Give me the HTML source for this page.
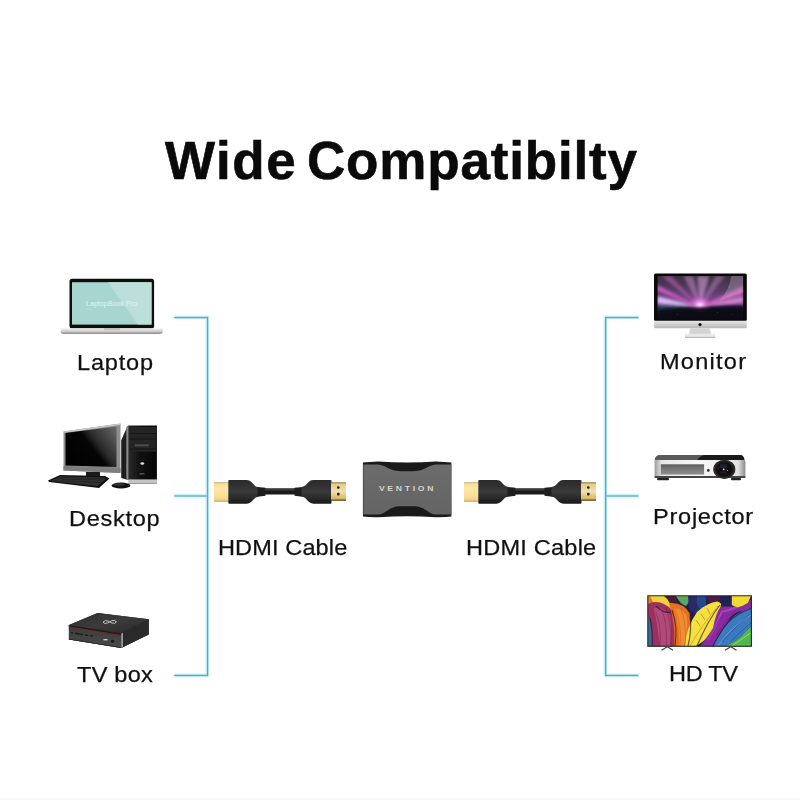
<!DOCTYPE html>
<html><head><meta charset="utf-8">
<style>
html,body{margin:0;padding:0;background:#fff;}
body{width:800px;height:800px;position:relative;overflow:hidden;font-family:"Liberation Sans",sans-serif;}
.t{position:absolute;white-space:nowrap;color:#111;line-height:1;}
.title{font-weight:bold;font-size:53px;top:134px;color:#0a0a0a;letter-spacing:1.5px;-webkit-text-stroke:0.6px #0a0a0a}
#w2{letter-spacing:0.83px}
.lab{font-size:22px;transform:scaleX(1.07);transform-origin:0 0;-webkit-text-stroke:0.25px #111;}
svg{position:absolute;left:0;top:0;}
</style></head><body>
<div class="t title" id="w1" style="left:165px">Wide</div><div class="t title" id="w2" style="left:307px">Compatibilty</div>

<div class="t lab" style="left:77px;top:352px;letter-spacing:0.75px">Laptop</div>
<div class="t lab" style="left:69.2px;top:508px;letter-spacing:0.66px">Desktop</div>
<div class="t lab" style="left:77px;top:664px;letter-spacing:0.23px">TV box</div>
<div class="t lab" style="left:218.3px;top:537px;letter-spacing:0.11px">HDMI Cable</div>
<div class="t lab" style="left:466.2px;top:537px;letter-spacing:0.21px">HDMI Cable</div>
<div class="t lab" style="left:660.4px;top:351px;letter-spacing:1.17px">Monitor</div>
<div class="t lab" style="left:653px;top:506px;letter-spacing:0.7px">Projector</div>
<div class="t lab" style="left:668.5px;top:663px;letter-spacing:-0.29px">HD TV</div>

<svg width="800" height="800" viewBox="0 0 800 800">
<defs>
 <linearGradient id="lapbase" x1="0" y1="0" x2="0" y2="1">
  <stop offset="0" stop-color="#f2f2f2"/><stop offset=".5" stop-color="#d0d0d0"/><stop offset="1" stop-color="#8a8a8a"/>
 </linearGradient>
 <linearGradient id="dscr" x1="0" y1="0" x2="1" y2="1">
  <stop offset="0" stop-color="#3a3a3a"/><stop offset=".45" stop-color="#0c0c0c"/><stop offset="1" stop-color="#000"/>
 </linearGradient>
 <linearGradient id="dframe" x1="0" y1="0" x2="1" y2="0">
  <stop offset="0" stop-color="#9a9a9a"/><stop offset=".5" stop-color="#c4c4c4"/><stop offset="1" stop-color="#8a8a8a"/>
 </linearGradient>
 <linearGradient id="gold" x1="0" y1="0" x2="0" y2="1">
  <stop offset="0" stop-color="#b89a5a"/><stop offset=".07" stop-color="#f6dc98"/><stop offset=".3" stop-color="#fde6a6"/><stop offset=".7" stop-color="#fbe09a"/><stop offset=".93" stop-color="#f2cf80"/><stop offset="1" stop-color="#a48450"/>
 </linearGradient>
 <linearGradient id="gold2" x1="0" y1="0" x2="0" y2="1">
  <stop offset="0" stop-color="#8a6a30"/><stop offset=".1" stop-color="#e6cc88"/><stop offset=".5" stop-color="#f0e0b0"/><stop offset=".88" stop-color="#dcb860"/><stop offset="1" stop-color="#4a3410"/>
 </linearGradient>
 <linearGradient id="plug" x1="0" y1="0" x2="0" y2="1">
  <stop offset="0" stop-color="#2a2a2a"/><stop offset=".5" stop-color="#3a3a3a"/><stop offset="1" stop-color="#1a1a1a"/>
 </linearGradient>
 <linearGradient id="imacchin" x1="0" y1="0" x2="0" y2="1">
  <stop offset="0" stop-color="#e6e6e6"/><stop offset=".5" stop-color="#cfcfcf"/><stop offset="1" stop-color="#b4b4b4"/>
 </linearGradient>
 <radialGradient id="rays" cx="700" cy="308" r="50" gradientUnits="userSpaceOnUse">
  <stop offset="0" stop-color="#f4b8f0"/><stop offset=".3" stop-color="#c860b8"/><stop offset=".7" stop-color="#5a2a6a"/><stop offset="1" stop-color="#2a1a3a"/>
 </radialGradient>
 <linearGradient id="projbody" x1="0" y1="0" x2="1" y2="0">
  <stop offset="0" stop-color="#9a9a9a"/><stop offset=".08" stop-color="#e8e8e8"/><stop offset=".5" stop-color="#f8f8f8"/><stop offset=".92" stop-color="#e0e0e0"/><stop offset="1" stop-color="#8a8a8a"/>
 </linearGradient>
 <linearGradient id="vent" x1="0" y1="0" x2="0" y2="1">
  <stop offset="0" stop-color="#5e5e5e"/><stop offset=".5" stop-color="#7a7a7a"/><stop offset="1" stop-color="#8e8e8e"/>
 </linearGradient>
 <radialGradient id="lens" cx=".45" cy=".4" r=".6">
  <stop offset="0" stop-color="#5a6a8a"/><stop offset=".35" stop-color="#1a2030"/><stop offset=".8" stop-color="#0a0a0a"/><stop offset="1" stop-color="#2a1a1a"/>
 </radialGradient>
 <linearGradient id="adface" x1="0" y1="0" x2="0" y2="1">
  <stop offset="0" stop-color="#6c6c6c"/><stop offset="1" stop-color="#646464"/>
 </linearGradient>
</defs>

<!-- lines -->
<g id="lines">
 <g fill="#d2fbff">
  <rect x="205.2" y="315.3" width="4" height="361.8"/>
  <rect x="174" y="315.3" width="34" height="4"/>
  <rect x="174" y="673.3" width="34" height="4"/>
  <rect x="174" y="493.6" width="33" height="4.8"/>
  <rect x="603.3" y="315.3" width="4" height="361.8"/>
  <rect x="605" y="315.3" width="33.6" height="4"/>
  <rect x="605" y="673.3" width="33.6" height="4"/>
  <rect x="606" y="493.6" width="32.6" height="4.8"/>
 </g>
 <g fill="#5ea4c4">
  <rect x="206.8" y="316.8" width="1.5" height="359.4"/>
  <rect x="174.3" y="316.8" width="33.5" height="1.5"/>
  <rect x="174.3" y="674.7" width="33.5" height="1.5"/>
  <rect x="604.9" y="316.8" width="1.5" height="359.4"/>
  <rect x="605.2" y="316.8" width="33.3" height="1.5"/>
  <rect x="605.2" y="674.7" width="33.3" height="1.5"/>
 </g>
 <g fill="#8cc0d6">
  <rect x="174.3" y="494.9" width="33" height="2.1"/>
  <rect x="606" y="494.9" width="32.5" height="2.1"/>
 </g>
</g>

<!-- Laptop -->
<g id="laptop">
 <rect x="69.5" y="278.8" width="84.6" height="49.7" rx="2.5" fill="#0e0e0e"/>
 <rect x="72" y="282.2" width="79.5" height="42.4" fill="#a7d5cf"/>
 <polygon points="108,282.2 151.5,282.2 151.5,324.6 138,324.6" fill="#bddfdb"/>
 <text x="86" y="306.3" font-family="Liberation Sans" font-size="7" fill="#e2f2f0" letter-spacing="0" textLength="51" lengthAdjust="spacingAndGlyphs">LaptopBook Pro</text>
 <rect x="86.5" y="308.8" width="6" height="0.5" fill="#d6ecea"/>
 <path d="M60.7,328.3 H162.8 V331.5 Q162.8,334 159.5,334 H64 Q60.7,334 60.7,331.5 Z" fill="url(#lapbase)"/>
 <rect x="104" y="328.3" width="16" height="1.5" fill="#b8b8b8"/>
</g>

<!-- Desktop -->
<g id="desktop">
 <defs>
  <linearGradient id="dscr2" x1="65.5" y1="466" x2="116.5" y2="427" gradientUnits="userSpaceOnUse">
   <stop offset="0" stop-color="#000"/><stop offset=".5" stop-color="#050505"/><stop offset=".62" stop-color="#2a2a2a"/><stop offset="1" stop-color="#6a6a6a"/>
  </linearGradient>
  <linearGradient id="tower" x1="0" y1="0" x2="1" y2="0">
   <stop offset="0" stop-color="#2a2a2a"/><stop offset=".4" stop-color="#111"/><stop offset="1" stop-color="#050505"/>
  </linearGradient>
 </defs>
 <polygon points="63.5,431.5 120.5,423.5 120.5,473 63.5,470.5" fill="#8e8e8e"/>
 <polygon points="63.5,431.5 120.5,423.5 120.5,425 63.5,433" fill="#c8c8c8"/>
 <polygon points="65.5,433 116.5,426.5 116.5,467 65.5,465.5" fill="url(#dscr2)"/>
 <polygon points="63.5,466 120.5,468 120.5,473 63.5,470.5" fill="#7e7e7e"/>
 <rect x="86" y="472" width="14" height="4.5" fill="#1a1a1a"/>
 <polygon points="48,480.5 60,475 105,476 109.5,478.5 99,488 49,482" fill="#121212"/>
 <polygon points="52,480.3 61,476.5 104,477.5 106,479 97.5,486 52,481.3" fill="#4a4a4a" opacity=".6"/>
 <g stroke="#111" stroke-width=".5" opacity=".8">
  <path d="M56,478.8 L105,480.2 M53,480.6 L102,482.5 M60,477.5 L106,478.8"/>
 </g>
 <polygon points="121.2,440.5 127.5,426 128.3,426 128.3,480 121.2,478" fill="#1e1e1e"/>
 <polygon points="126.3,427 128.3,425.5 128.3,480 126.3,479.5" fill="#8a8a8a"/>
 <rect x="128.3" y="425.5" width="28.6" height="54.5" fill="url(#tower)"/>
 <rect x="129.5" y="427" width="26.5" height="24.7" fill="#242424"/>
 <path d="M129.5,433.5 H156 M129.5,439 H156 M129.5,449 H156" stroke="#111" stroke-width=".8"/>
 <rect x="134.8" y="444.2" width="14.1" height="2.2" fill="#4a4a4a"/>
 <ellipse cx="142.3" cy="463.5" rx="1.9" ry="1.3" fill="#e0e0e0"/>
 <rect x="139.5" y="473.5" width="5" height="0.8" fill="#888"/>
 <rect x="128.3" y="479.4" width="28.6" height="4.2" fill="#c4c4c4"/>
 <rect x="128.3" y="483" width="28.6" height="0.8" fill="#888"/>
 <ellipse cx="121" cy="485.5" rx="9.5" ry="3" fill="#111"/>
 <ellipse cx="119" cy="484.5" rx="6" ry="1.5" fill="#3a3a3a" opacity=".8"/>
</g>

<!-- TV box -->
<g id="tvbox">
 <defs>
  <linearGradient id="tbtop" x1="0" y1="0" x2="1" y2="1">
   <stop offset="0" stop-color="#2c2c2c"/><stop offset=".5" stop-color="#3c3c3c"/><stop offset="1" stop-color="#262626"/>
  </linearGradient>
  <linearGradient id="tbfront" x1="0" y1="0" x2="0" y2="1">
   <stop offset="0" stop-color="#3a3a3a"/><stop offset="1" stop-color="#4a4a4a"/>
  </linearGradient>
 </defs>
 <polygon points="68.9,624.9 97.6,613 148.8,619.2 148.8,634.4 121.2,647.9 68.9,639.5" fill="#2a2a2a"/>
 <polygon points="68.9,624.9 97.6,613 148.8,619.2 121.2,633.3" fill="url(#tbtop)"/>
 <polygon points="68.9,624.9 121.2,633.3 121.2,647.9 68.9,639.5" fill="url(#tbfront)"/>
 <polygon points="121.2,633.3 148.8,619.2 148.8,634.4 121.2,647.9" fill="#2a2a2a"/>
 <polygon points="68.9,624.9 121.2,633.3 121.2,635.3 68.9,626.7" fill="#1e1e1e"/>
 <polygon points="68.9,626.5 121.2,635 121.2,635.9 68.9,627.4" fill="#6e2a2a"/>
 <polygon points="121.2,633.6 123,632.7 123,647 121.2,647.9" fill="#9a9a9a"/>
 <polygon points="68.9,638.8 121.2,647.2 121.2,647.9 68.9,639.5" fill="#222"/>
 <g fill="#1a1a1a">
  <polygon points="71,632 73,632.3 73,633.5 71,633.2"/>
  <polygon points="75,632.6 83,633.9 83,635.2 75,633.9"/>
  <polygon points="85,634.2 88,634.7 88,636 85,635.5"/>
  <polygon points="90,635 93,635.5 93,636.8 90,636.3"/>
 </g>
 <rect x="103.5" y="639" width="4" height="1.4" fill="#cfcfcf"/>
 <circle cx="112.5" cy="641.3" r="1.7" fill="#1a1a1a"/>
 <path d="M103,622.2 Q105,619.6 108,621 Q110,622.2 112,623 Q115,624.2 116.5,621.8 Q114.5,619.4 111.5,620.8 Q109.5,622 107.5,623 Q104.5,624.4 103,622.2Z" fill="none" stroke="#d0d0d0" stroke-width="0.9"/>
</g>

<!-- HDMI cable left -->
<g id="cableL">
 <rect x="214" y="482.3" width="14.5" height="19.3" fill="url(#gold)"/>
 <path d="M228.3,481 Q228.3,480.1 229.3,480.1 H246.5 C252.5,480.1 253,486.9 258.5,487 V496.8 C253,496.9 252.5,503.7 246.5,503.7 H229.3 Q228.3,503.7 228.3,502.8 Z" fill="url(#plug)"/>
 <path d="M257.5,487 L265.5,487.8 V495.8 L257.5,496.8Z" fill="#1e1e1e"/>
 <rect x="265" y="488.3" width="31" height="6.2" fill="#1b1b1b"/>
 <rect x="265" y="489" width="31" height="1.5" fill="#3a3a3a"/>
 <path d="M302.5,487 L294.5,487.8 V495.8 L302.5,496.8Z" fill="#1e1e1e"/>
 <path d="M331.5,481 Q331.5,480.1 330.5,480.1 H313.5 C307.5,480.1 307,486.9 301.5,487 V496.8 C307,496.9 307.5,503.7 313.5,503.7 H330.5 Q331.5,503.7 331.5,502.8 Z" fill="url(#plug)"/>
 <rect x="331" y="482.3" width="15" height="18.5" fill="url(#gold2)"/>
 <rect x="337" y="486.2" width="2.6" height="2.6" rx="1" fill="#222"/>
 <rect x="337" y="492.8" width="2.6" height="2.6" rx="1" fill="#222"/>
</g>
<use href="#cableL" x="250" y="0"/>

<!-- Adapter -->
<g id="adapter">
 <path d="M362.9,462.5 Q370,461.6 378.3,461.4 Q407,463.5 436,461.4 Q444,461.6 451.4,462.5 V516.5 Q444,517.4 436,517.2 Q407,515.5 378.3,517.2 Q370,517.4 362.9,516.5 Z" fill="#1a1a1a"/>
 <path d="M363.3,464.6 H378 C386,465 389,471.2 400,471.2 H414 C425,471.2 428,465 436,464.6 H451.4 V514.5 H436 C428,514.1 425,506.3 414,506.3 H400 C389,506.3 386,514.1 378,514.5 H363.3 Z" fill="url(#adface)"/>
 
 <text x="0" y="0" transform="translate(407.5 491.4) scale(1.3 1)" text-anchor="middle" font-family="Liberation Sans" font-weight="bold" font-size="6.6" fill="#d4d4d4" letter-spacing="2.1">VENTION</text>
</g>

<!-- iMac -->
<g id="imac">
 <rect x="654" y="273.5" width="92.8" height="47.5" rx="1.5" fill="#0a0a0a"/>
 <svg x="657.4" y="276" width="85.9" height="43.3" viewBox="0 0 86 43" preserveAspectRatio="none">
  <defs>
   <linearGradient id="imbg" x1="0" y1="0" x2="0" y2="1">
    <stop offset="0" stop-color="#3a3040"/><stop offset=".35" stop-color="#5a3c66"/><stop offset=".62" stop-color="#8a4a9a"/><stop offset=".74" stop-color="#2a1a40"/><stop offset=".85" stop-color="#120c1c"/><stop offset="1" stop-color="#0a0810"/>
   </linearGradient>
   <filter id="bl1" x="-20%" y="-20%" width="140%" height="140%"><feGaussianBlur stdDeviation="1.2"/></filter>
   <filter id="bl2" x="-20%" y="-20%" width="140%" height="140%"><feGaussianBlur stdDeviation="1.6"/></filter>
   <radialGradient id="glow" cx=".5" cy=".55" r=".5">
    <stop offset="0" stop-color="#fff0ff"/><stop offset=".35" stop-color="#f090e8" stop-opacity=".85"/><stop offset="1" stop-color="#c050c0" stop-opacity="0"/>
   </radialGradient>
  </defs>
  <rect width="86" height="43" fill="url(#imbg)"/>
  <g filter="url(#bl2)">
   <polygon points="42.6,31 0,20 0,27" fill="#e4c8ff" opacity=".9"/>
   <polygon points="42.6,31 0,9 0,15" fill="#e060d0" opacity=".8"/>
   <polygon points="42.6,31 4,0 14,0" fill="#c868c8" opacity=".5"/>
   <polygon points="42.6,31 26,0 36,0" fill="#d898d8" opacity=".45"/>
   <polygon points="42.6,31 40,0 52,0" fill="#e8b0e8" opacity=".5"/>
   <polygon points="42.6,31 58,0 68,0" fill="#d090d0" opacity=".4"/>
   <polygon points="42.6,31 86,10 86,18" fill="#e868d0" opacity=".85"/>
   <polygon points="42.6,31 86,20 86,26" fill="#f0a0e0" opacity=".7"/>
   <polygon points="42.6,31 0,27 0,37 28,34" fill="#2a6a7a" opacity=".5"/>
  </g>
  <ellipse cx="42.6" cy="27.5" rx="13" ry="9" fill="url(#glow)"/>
  <path d="M0,33 Q30,30.5 42.6,31.5 Q60,30.5 86,30 V45 H0Z" fill="#0c0a12" opacity=".9" filter="url(#bl1)"/>
  <path d="M74,0 H86 V16 Q72,20 62,25 Q72,14 74,0Z" fill="#b8a0b8" opacity=".4"/>
  <circle cx="20" cy="38" r=".3" fill="#fff" opacity=".6"/><circle cx="60" cy="36" r=".3" fill="#fff" opacity=".6"/><circle cx="75" cy="38" r=".3" fill="#fff" opacity=".5"/>
 </svg>
 <path d="M654,320.7 H746.8 V327 Q746.8,328.3 745,328.3 H655.8 Q654,328.3 654,327 Z" fill="url(#imacchin)"/>
 <circle cx="700" cy="324.6" r="1.6" fill="#111"/>
 <polygon points="690.4,328.3 709.6,328.3 711,334 689,334" fill="#d4d4d4"/>
 <rect x="685" y="333.8" width="30.2" height="4" fill="#e8e8e8"/>
 <rect x="685" y="336.8" width="30.2" height="1.2" fill="#b8b8b8"/>
</g>

<!-- Projector -->
<g id="proj">
 <path d="M654.6,460.5 Q655,455 660,455 H740 Q744,455 744.5,460.5 Z" fill="#5a5a5a"/>
 <path d="M697,460.5 Q700,455 706,455 H740 Q744,455 744.5,460.5 Z" fill="#1a1a1a"/>
 <rect x="654.6" y="460" width="90.8" height="17" rx="1.5" fill="url(#projbody)"/>
 <rect x="654.6" y="476" width="90.8" height="2" fill="#444"/>
 <rect x="660.8" y="464.3" width="43.3" height="10.3" fill="url(#vent)"/>
 <circle cx="708.3" cy="470.4" r="1.3" fill="#222"/>
 <ellipse cx="724.3" cy="469.3" rx="11" ry="9.6" fill="#1e1e1e"/>
 <ellipse cx="724.3" cy="469.3" rx="10.2" ry="8.9" fill="none" stroke="#4a3a3a" stroke-width=".8" opacity=".7"/>
 <ellipse cx="724.3" cy="469.3" rx="8" ry="7" fill="#0e0e12"/>
 <ellipse cx="723.5" cy="466" rx="4" ry="2.5" fill="#2a3a5a" opacity=".45"/>
 <ellipse cx="723.5" cy="472.5" rx="3.5" ry="2" fill="#4a1a20" opacity=".35"/>
 <circle cx="723.8" cy="469.3" r=".9" fill="#e8d8c0"/>
 <circle cx="718" cy="468" r=".7" fill="#b07080" opacity=".5"/>
 <circle cx="727.5" cy="470.5" r=".6" fill="#ccc" opacity=".8"/>
 <rect x="657" y="478" width="12" height="2.2" rx="1" fill="#222"/>
 <rect x="731" y="478" width="10" height="2.2" rx="1" fill="#222"/>
</g>

<!-- HD TV -->
<g id="tv">
 <defs>
  <clipPath id="tvclip"><rect x="648.3" y="596.3" width="102.6" height="49.5"/></clipPath>
  <filter id="tvbl" x="-5%" y="-5%" width="110%" height="110%"><feGaussianBlur stdDeviation="0.75"/></filter>
 </defs>
 <rect x="647.3" y="595.3" width="104.6" height="51.5" fill="#151515"/>
 <g clip-path="url(#tvclip)"><g filter="url(#tvbl)">
  <rect x="648" y="596" width="104" height="51" fill="#1c2448"/>
  <!-- left blue edge -->
  <rect x="648" y="615" width="6" height="32" fill="#2a5a8a"/>
  <!-- top middle dark maroon / green / navy -->
  <path d="M658,596 H678 Q676,604 670,608 Q662,604 658,596Z" fill="#4a1a30"/>
  <path d="M676,596 H690 Q690,602 686,606 Q680,604 676,596Z" fill="#5aa860"/>
  <path d="M688,596 H706 V614 Q696,616 690,610 Q688,604 688,596Z" fill="#2a2a6a"/>
  <path d="M697,596 H706 V612 Q700,610 697,604Z" fill="#244a8a"/>
  <path d="M705,596 H722 Q720,602 714,605 Q708,603 705,596Z" fill="#4a1a48"/>
  <path d="M720,596 H733 V607 Q726,608 720,602Z" fill="#22205a"/>
  <!-- top-left orange tint + yellow feather -->
  <rect x="648" y="596" width="6" height="10" fill="#e07a30"/>
  <path d="M650,596 H664 Q672,602 671,612 Q664,614 656,606 Q652,601 650,596Z" fill="#f2d23a"/>
  <!-- maroon feather -->
  <path d="M648,604 Q660,598 672,610 Q678,626 675,646 H652 Q650,630 648,618Z" fill="#9a3060"/>
  <path d="M654,608 Q664,606 670,616 Q672,630 670,646 H660 Q658,628 654,608Z" fill="#b85080" opacity=".8"/>
  <path d="M650,618 Q653,632 652,646 H648 V618Z" fill="#3a6a9a"/>
  <!-- orange feather -->
  <path d="M669,603 Q684,602 690,614 Q692,630 688,646 H674 Q676,625 669,603Z" fill="#e8701e"/>
  <path d="M674,608 Q684,608 687,618 Q688,632 684,646 H679 Q680,628 674,608Z" fill="#f39a3a" opacity=".7"/>
  <!-- big yellow feather -->
  <path d="M685,646 Q686,628 697,612 Q708,602 717.3,601.4 Q722,603 720.9,605 Q720,614 718.7,621 Q714,630 707,638 Q700,644 696,646Z" fill="#f4e040"/>
  <path d="M690,646 Q700,628 718,606" fill="none" stroke="#d0a820" stroke-width=".9"/>
  <path d="M700,626 l-4,-6 M705,620 l-4,-6 M710,614 l-3,-6" stroke="#c07a20" stroke-width=".7"/>
  <!-- purple feather -->
  <path d="M700,646 Q708,636 713,628 Q716,612 721,606.5 H733.2 Q745,603 752,599 V613.7 Q744,610 737.6,612 Q730,616 727.4,622.4 Q720,632 717.3,639 L714,646Z" fill="#8a2aa0"/>
  <path d="M708,640 Q716,626 722,612 Q730,610 740,606" fill="none" stroke="#b050c8" stroke-width="2" opacity=".7"/>
  <!-- yellow top right -->
  <path d="M731.8,596 H751 Q749,601 747.7,602.9 Q743,606 737.6,607.2 Q733,606 731.8,605Z" fill="#f0dc30"/>
  <!-- blue feather -->
  <path d="M713,646 Q720,632 727.4,623 Q734,615 740.5,612.3 Q746,609 752,608 V625.3 Q746,631 740.5,637 Q734,642 726,646Z" fill="#3a7ac0"/>
  <path d="M718,646 Q730,628 752,614" fill="none" stroke="#6ab0e0" stroke-width="1" opacity=".7"/>
  <!-- dark separations / texture -->
  <g fill="none" stroke="#2a1020" stroke-width="1.2" opacity=".65">
   <path d="M672,610 Q678,626 675,646"/>
   <path d="M690,614 Q692,630 688,646"/>
   <path d="M697,646 Q708,620 720,605"/>
   <path d="M713,646 Q720,632 727.4,623 Q736,614 752,608"/>
   <path d="M650,618 Q653,632 652,646"/>
   <path d="M671,612 Q664,614 656,606"/>
  </g>
  <g fill="none" stroke="#5a1a3a" stroke-width=".6" opacity=".6">
   <path d="M656,612 Q662,628 660,646 M662,610 Q668,626 666,646 M666,608 Q672,626 671,646"/>
  </g>
  <g fill="none" stroke="#b04a10" stroke-width=".6" opacity=".6">
   <path d="M675,608 Q682,626 680,646 M681,608 Q687,626 685,646"/>
  </g>
  <g fill="none" stroke="#5a1a70" stroke-width=".6" opacity=".7">
   <path d="M708,640 Q716,624 724,612 M716,636 Q724,622 736,610"/>
  </g>
  <g fill="none" stroke="#1a3a6a" stroke-width=".6" opacity=".7">
   <path d="M722,642 Q732,630 750,614 M730,642 Q740,632 752,622"/>
  </g>
  <!-- green -->
  <path d="M726,646 Q734,642 740.5,637 Q746,631 752,625.3 V646Z" fill="#50b850"/>
  <path d="M732,646 L752,632" stroke="#a0e060" stroke-width=".8"/>
 </g></g>
 <path d="M661.5,650.3 L667.3,646.8 L673,650.3" fill="none" stroke="#4a4a4a" stroke-width="1.3"/>
 <path d="M725,650.3 L730.8,646.8 L736.5,650.3" fill="none" stroke="#4a4a4a" stroke-width="1.3"/>
</g>
<rect x="0" y="798" width="800" height="2" fill="#f7f7f7"/>
</svg>
</body></html>
